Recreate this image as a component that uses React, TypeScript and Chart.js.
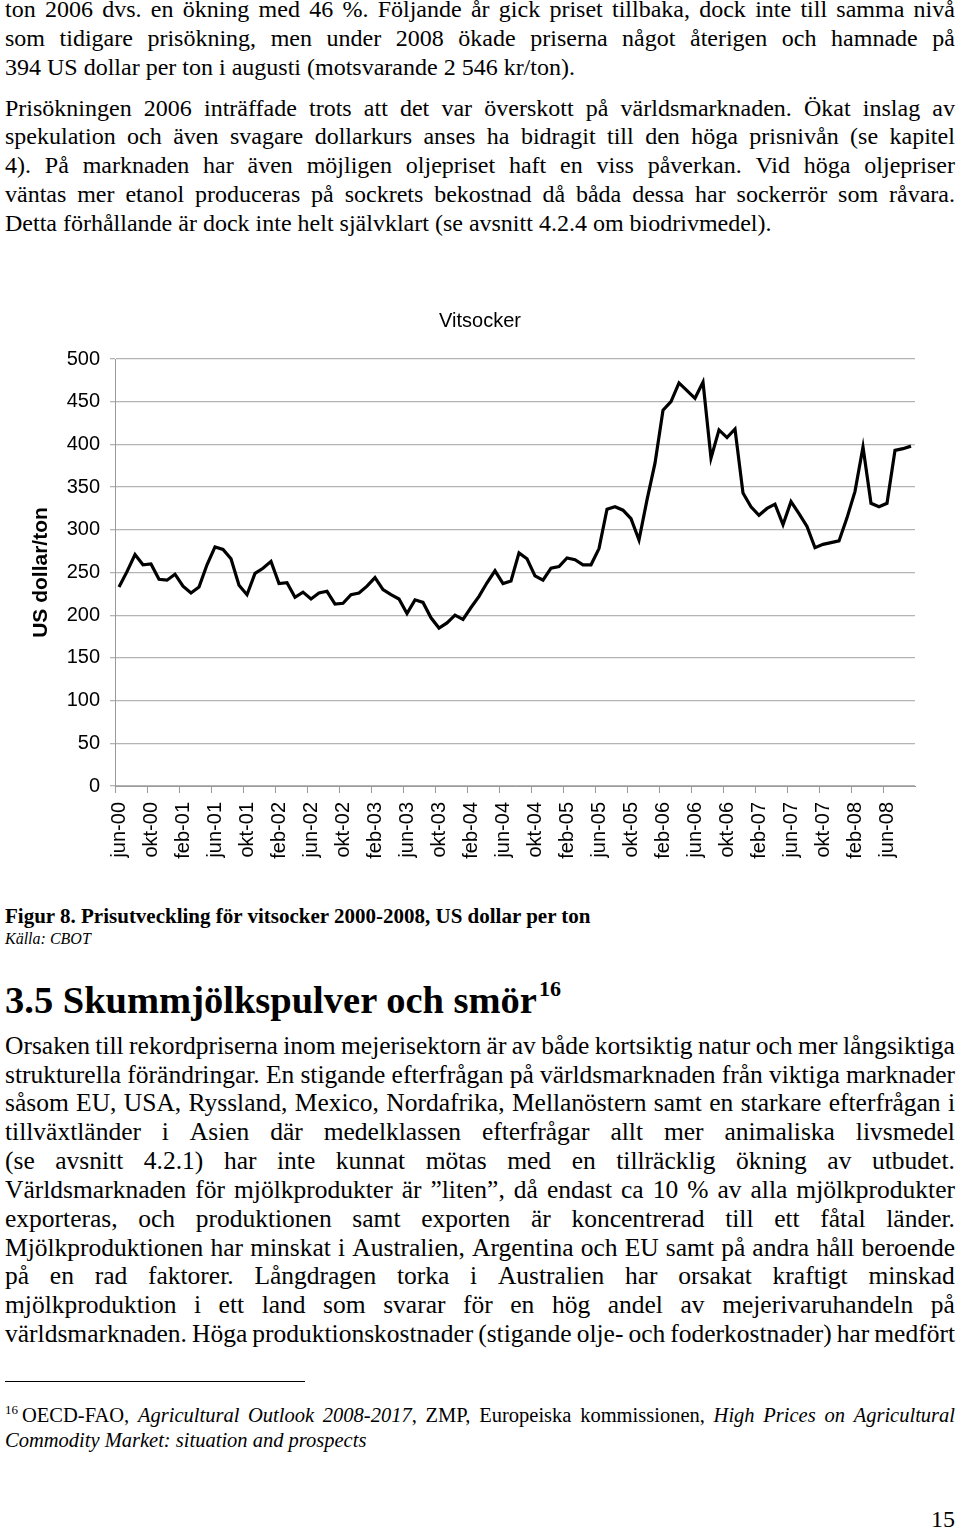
import React, { useEffect, useRef } from "react";
import { Chart, registerables } from "chart.js";

Chart.register(...registerables);

// ---------- chart data ----------
const MONTH_NAMES = ["jan", "feb", "mar", "apr", "maj", "jun", "jul", "aug", "sep", "okt", "nov", "dec"];
const FIRST_YEAR = 2000;
const FIRST_MONTH_INDEX = 5; // jun-00

const PRICES = [
  233, 251, 271, 259, 260, 242, 241, 248, 234, 226,
  233, 259, 280, 277, 266, 235, 224, 249, 255, 263,
  237, 238, 221, 227, 219, 226, 228, 213, 214, 224,
  226, 234, 244, 230, 224, 219, 202, 218, 215, 197,
  185, 191, 200, 195, 209, 222, 238, 252, 237, 240,
  273, 266, 246, 241, 255, 257, 267, 265, 259, 259,
  278, 324, 327, 323, 313, 288, 335, 378, 440, 450,
  472, 463, 454, 473, 384, 417, 408, 418, 343, 327,
  317, 325, 330, 306, 333, 319, 304, 279, 283, 285,
  287, 314, 345, 397, 331, 327, 331, 393, 395, 398,
];

const CATEGORIES = PRICES.map((_, i) => {
  const m = FIRST_MONTH_INDEX + i;
  const yy = (FIRST_YEAR + Math.floor(m / 12)) % 100;
  return `${MONTH_NAMES[m % 12]}-${String(yy).padStart(2, "0")}`;
});

const LABEL_EVERY = 4;
const Y_MIN = 0;
const Y_MAX = 500;
const Y_STEP = 50;
const CHART_TITLE = "Vitsocker";
const Y_TITLE = "US dollar/ton";

// ---------- page text ----------
const PARA1 = [
  "ton 2006 dvs. en ökning med 46 %. Följande år gick priset tillbaka, dock inte till samma nivå",
  "som tidigare prisökning, men under 2008 ökade priserna något återigen och hamnade på",
  "394 US dollar per ton i augusti (motsvarande 2 546 kr/ton).",
];
const PARA2 = [
  "Prisökningen 2006 inträffade trots att det var överskott på världsmarknaden. Ökat inslag av",
  "spekulation och även svagare dollarkurs anses ha bidragit till den höga prisnivån (se kapitel",
  "4). På marknaden har även möjligen oljepriset haft en viss påverkan. Vid höga oljepriser",
  "väntas mer etanol produceras på sockrets bekostnad då båda dessa har sockerrör som råvara.",
  "Detta förhållande är dock inte helt självklart (se avsnitt 4.2.4 om biodrivmedel).",
];
const CAPTION = "Figur 8. Prisutveckling för vitsocker 2000-2008, US dollar per ton";
const SOURCE = "Källa: CBOT";
const HEADING = "3.5 Skummjölkspulver och smör";
const HEADING_NOTE = "16";
const PARA3 = [
  "Orsaken till rekordpriserna inom mejerisektorn är av både kortsiktig natur och mer långsiktiga",
  "strukturella förändringar. En stigande efterfrågan på världsmarknaden från viktiga marknader",
  "såsom EU, USA, Ryssland, Mexico, Nordafrika, Mellanöstern samt en starkare efterfrågan i",
  "tillväxtländer i Asien där medelklassen efterfrågar allt mer animaliska livsmedel",
  "(se avsnitt 4.2.1) har inte kunnat mötas med en tillräcklig ökning av utbudet.",
  "Världsmarknaden för mjölkprodukter är ”liten”, då endast ca 10 % av alla mjölkprodukter",
  "exporteras, och produktionen samt exporten är koncentrerad till ett fåtal länder.",
  "Mjölkproduktionen har minskat i Australien, Argentina och EU samt på andra håll beroende",
  "på en rad faktorer. Långdragen torka i Australien har orsakat kraftigt minskad",
  "mjölkproduktion i ett land som svarar för en hög andel av mejerivaruhandeln på",
  "världsmarknaden. Höga produktionskostnader (stigande olje- och foderkostnader) har medfört",
];
const FOOTNOTE1 = "OECD-FAO, *Agricultural Outlook 2008-2017*, ZMP, Europeiska kommissionen, *High Prices on Agricultural*";
const FOOTNOTE2 = "*Commodity Market: situation and prospects*";
const PAGE_NO = "15";

const SERIF = '"Liberation Serif", "Times New Roman", Times, serif';
const SANS = '"Liberation Sans", Arial, Helvetica, sans-serif';

type Seg = { t: string; italic: boolean };

// split a line into words; "*" toggles italics across the whole line
function parseWords(text: string): Seg[][] {
  let italic = false;
  return text.split(" ").map((w) => {
    const segs: Seg[] = [];
    w.split("*").forEach((p, pi) => {
      if (pi > 0) italic = !italic;
      if (p) segs.push({ t: p, italic });
    });
    return segs;
  });
}

function renderWord(segs: Seg[]) {
  return segs.map((s, i) => (
    <span key={i} style={s.italic ? { fontStyle: "italic" } : undefined}>
      {s.t}
    </span>
  ));
}

function TextLine(props: {
  text: string;
  top: number;
  justify?: boolean;
  size?: number;
  lh?: number;
  left?: number;
  width?: number;
  extra?: React.CSSProperties;
  prefix?: React.ReactNode;
}) {
  const { text, top, justify = false, size = 24, lh = 29, left = 5, width = 950, extra, prefix } = props;
  const base: React.CSSProperties = {
    position: "absolute",
    left,
    top,
    width,
    height: lh,
    fontFamily: SERIF,
    fontSize: size,
    lineHeight: `${lh}px`,
    whiteSpace: "pre",
    color: "#000",
    ...extra,
  };
  const words = parseWords(text);
  if (justify) {
    return (
      <div style={{ ...base, display: "flex", justifyContent: "space-between" }}>
        {words.map((w, i) => (
          <span key={i}>
            {i === 0 ? prefix : null}
            {renderWord(w)}
          </span>
        ))}
      </div>
    );
  }
  return (
    <div style={base}>
      {prefix}
      {words.map((w, i) => (
        <React.Fragment key={i}>
          {i > 0 ? " " : null}
          {renderWord(w)}
        </React.Fragment>
      ))}
    </div>
  );
}

function SugarChart() {
  const ref = useRef<HTMLCanvasElement | null>(null);
  useEffect(() => {
    if (!ref.current) return;
    const gridGray = "#b4b4b4";
    const axisGray = "#9a9a9a";
    const chart = new Chart(ref.current, {
      type: "line",
      data: {
        labels: CATEGORIES,
        datasets: [
          {
            label: CHART_TITLE,
            data: PRICES,
            borderColor: "#000",
            borderWidth: 3.2,
            pointRadius: 0,
            tension: 0,
            fill: false,
            yAxisID: "y",
          },
        ],
      },
      options: {
        animation: false,
        responsive: false,
        layout: { padding: { left: 0, right: 0, top: 0, bottom: 0 } },
        plugins: {
          legend: { display: false },
          tooltip: { enabled: false },
          title: {
            display: true,
            text: CHART_TITLE,
            color: "#000",
            font: { family: SANS, size: 20, weight: "normal" },
            padding: { top: 19, bottom: 26 },
          },
        },
        scales: {
          x: {
            type: "category",
            offset: true,
            grid: {
              offset: true,
              drawOnChartArea: false,
              drawTicks: true,
              tickLength: 7,
              lineWidth: 1,
              color: (c: any) => (c.index % LABEL_EVERY === 0 ? axisGray : "rgba(0,0,0,0)"),
            },
            border: { display: true, color: axisGray, width: 1 },
            ticks: {
              autoSkip: false,
              maxRotation: 90,
              minRotation: 90,
              padding: 9,
              color: "#000",
              font: { family: SANS, size: 20 },
              callback: (_v: any, i: number) => (i % LABEL_EVERY === 0 ? CATEGORIES[i] : ""),
            },
            afterFit: (s: any) => {
              s.height = 94;
            },
          },
          y: {
            min: Y_MIN,
            max: Y_MAX,
            position: "left",
            ticks: {
              stepSize: Y_STEP,
              padding: 10,
              color: "#000",
              font: { family: SANS, size: 20 },
            },
            grid: { color: gridGray, lineWidth: 1.3, drawTicks: true, tickLength: 5 },
            border: { display: true, color: axisGray, width: 1 },
            title: {
              display: true,
              text: Y_TITLE,
              color: "#000",
              font: { family: SANS, size: 21, weight: "bold" },
              padding: { top: 29, bottom: 0 },
            },
            afterFit: (s: any) => {
              s.width = 115;
            },
          },
          yRight: {
            position: "right",
            min: Y_MIN,
            max: Y_MAX,
            grid: { drawOnChartArea: false, drawTicks: false, display: false },
            border: { display: false },
            ticks: { display: false },
            afterFit: (s: any) => {
              s.width = 45;
            },
          },
        },
      } as any,
    });
    return () => chart.destroy();
  }, []);
  return (
    <canvas
      ref={ref}
      width={960}
      height={590}
      style={{ position: "absolute", left: 0, top: 290, width: 960, height: 590 }}
    />
  );
}

export default function App() {
  const p1Tops = [-5, 24, 53];
  const p2Tops = [94, 122, 151, 180, 209];
  const p3Tops = [1031, 1060, 1088, 1117, 1146, 1175, 1204, 1233, 1261, 1290, 1319];
  return (
    <div
      style={{
        position: "absolute",
        left: 0,
        top: 0,
        width: 960,
        height: 1533,
        background: "#fff",
        overflow: "hidden",
      }}
    >
      {PARA1.map((t, i) => (
        <TextLine key={"a" + i} text={t} top={p1Tops[i]} justify={i < PARA1.length - 1} />
      ))}
      {PARA2.map((t, i) => (
        <TextLine key={"b" + i} text={t} top={p2Tops[i]} justify={i < PARA2.length - 1} />
      ))}

      <SugarChart />

      <TextLine text={CAPTION} top={904} size={21} lh={24} extra={{ fontWeight: "bold" }} />
      <TextLine text={SOURCE} top={929} size={16} lh={20} extra={{ fontStyle: "italic" }} />

      <div
        style={{
          position: "absolute",
          left: 5,
          top: 980,
          height: 40,
          fontFamily: SERIF,
          fontSize: 38.5,
          lineHeight: "40px",
          fontWeight: "bold",
          whiteSpace: "nowrap",
          color: "#000",
        }}
      >
        {HEADING}
        <span style={{ fontSize: 22, position: "relative", top: -17, marginLeft: 2 }}>{HEADING_NOTE}</span>
      </div>

      {PARA3.map((t, i) => (
        <TextLine key={"c" + i} text={t} top={p3Tops[i]} size={25.5} justify={true} />
      ))}

      <div style={{ position: "absolute", left: 5, top: 1381, width: 300, height: 1, background: "#000" }} />

      <TextLine
        text={FOOTNOTE1}
        top={1403}
        size={20.5}
        lh={25}
        justify={true}
        prefix={<span style={{ fontSize: 13, position: "relative", top: -8, marginRight: 4 }}>16</span>}
      />
      <TextLine text={FOOTNOTE2} top={1428} size={20.5} lh={25} />

      <div
        style={{
          position: "absolute",
          left: 0,
          top: 1505,
          width: 955,
          textAlign: "right",
          fontFamily: SERIF,
          fontSize: 24,
          lineHeight: "29px",
          color: "#000",
        }}
      >
        {PAGE_NO}
      </div>
    </div>
  );
}
